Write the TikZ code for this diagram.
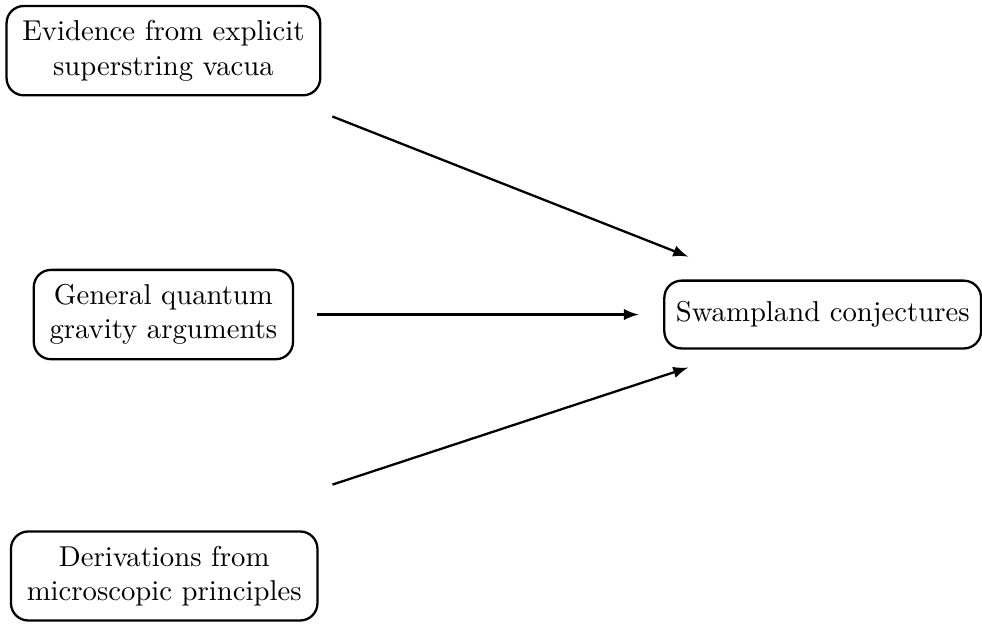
\documentclass[tikz,border=0pt]{standalone}
\usetikzlibrary{calc}
\begin{document}
\begin{tikzpicture}[box/.style={draw,thick,rounded corners=6pt,align=center,inner xsep=5.5pt,inner ysep=5pt,minimum height=0.83cm},
  arr/.style={->,>=latex,thick}]
\useasboundingbox (0,0) rectangle (12.02,-7.64);
\node[box] (evid) at (2.00,-0.62) {Evidence from explicit\\superstring vacua};
\node[box] (qg) at (2.00,-3.85) {General quantum\\gravity arguments};
\node[box] (deriv) at (2.01,-7.05) {Derivations from\\microscopic principles};
\node[box,inner xsep=4pt] (swamp) at (10.07,-3.85) {Swampland conjectures};
\draw[arr] ($(evid.south east)+(0.135,-0.245)$) -- ($(swamp.north west)+(0.306,0.28)$);
\draw[arr,shorten <=0.28cm,shorten >=0.3cm] (qg) -- (swamp);
\draw[arr] ($(deriv.north east)+(0.17,0.56)$) -- ($(swamp.south west)+(0.306,-0.22)$);
\end{tikzpicture}
\end{document}
